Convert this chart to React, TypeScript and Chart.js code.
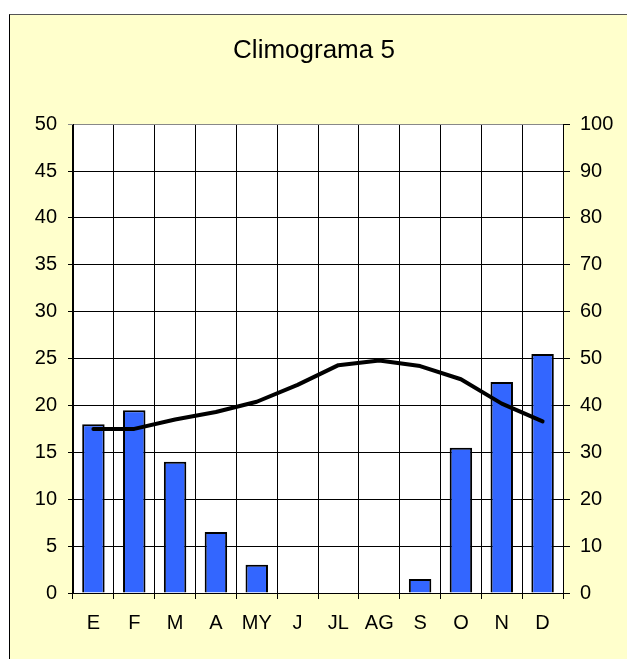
import React, { useEffect, useRef } from 'react';
import { Chart, registerables } from 'chart.js';

Chart.register(...registerables);

const months = ['E', 'F', 'M', 'A', 'MY', 'J', 'JL', 'AG', 'S', 'O', 'N', 'D'];
const precipitation = [36, 39, 28, 13, 6, 0, 0, 0, 3, 31, 45, 51];
const temperature = [17.5, 17.5, 18.5, 19.3, 20.4, 22.2, 24.3, 24.8, 24.2, 22.8, 20.2, 18.3];
const tempRange = [0, 50];
const precipRange = [0, 100];
const titleText = 'Climograma 5';

const FONT = '"Liberation Sans", Arial, Helvetica, sans-serif';

const plotBg = {
  id: 'plotBg',
  beforeDraw(chart: any) {
    const { ctx, chartArea } = chart;
    if (!chartArea) return;
    ctx.save();
    ctx.fillStyle = '#ffffff';
    ctx.fillRect(chartArea.left, chartArea.top, chartArea.right - chartArea.left, chartArea.bottom - chartArea.top);
    ctx.restore();
  },
};

export default function App() {
  const ref = useRef<HTMLCanvasElement | null>(null);

  useEffect(() => {
    document.documentElement.style.overflow = 'hidden';
    const canvas = ref.current;
    if (!canvas) return;
    const chart = new Chart(canvas, {
      type: 'bar',
      data: {
        labels: months,
        datasets: [
          {
            type: 'line',
            label: 'Temperatura',
            data: temperature,
            yAxisID: 'yT',
            borderColor: '#000000',
            borderWidth: 4,
            pointRadius: 0,
            tension: 0,
            borderJoinStyle: 'round',
            borderCapStyle: 'round',
            order: 0,
          } as any,
          {
            type: 'bar',
            label: 'Precipitación',
            data: precipitation,
            yAxisID: 'yP',
            backgroundColor: '#3366FF',
            borderColor: '#000000',
            borderWidth: 2,
            barPercentage: 0.55,
            categoryPercentage: 1,
            order: 1,
          } as any,
        ],
      },
      options: {
        responsive: false,
        animation: false,
        layout: { padding: { left: 0, right: 9, top: 0, bottom: 0 } },
        plugins: {
          legend: { display: false },
          tooltip: { enabled: false },
          title: {
            display: true,
            text: titleText,
            color: '#000000',
            font: { family: FONT, size: 26, weight: 'normal', lineHeight: 1.2 },
            padding: { top: 20, bottom: 58 },
          },
        },
        scales: {
          x: {
            grid: { offset: true, color: '#000000', lineWidth: 1, tickLength: 6 },
            border: { color: '#000000', width: 1 },
            ticks: {
              color: '#000000',
              font: { family: FONT, size: 20 },
              padding: 12,
              maxRotation: 0,
              autoSkip: false,
            },
            afterFit(s: any) {
              s.height = 66;
            },
          },
          yT: {
            position: 'left',
            min: tempRange[0],
            max: tempRange[1],
            ticks: {
              stepSize: 5,
              color: '#000000',
              font: { family: FONT, size: 20 },
              padding: 11,
            },
            grid: {
              color: (c: any) => (c.tick && c.tick.value === tempRange[1] ? '#888888' : '#000000'),
              lineWidth: 1,
              tickLength: 5,
            },
            border: { color: '#000000', width: 1 },
            afterFit(s: any) {
              s.width = 63;
            },
          },
          yP: {
            position: 'right',
            min: precipRange[0],
            max: precipRange[1],
            ticks: {
              stepSize: 10,
              color: '#000000',
              font: { family: FONT, size: 20 },
              padding: 10,
            },
            grid: { drawOnChartArea: false, color: '#000000', lineWidth: 1, tickLength: 7 },
            border: { color: '#000000', width: 1 },
            afterFit(s: any) {
              s.width = 55;
            },
          },
        },
      } as any,
      plugins: [plotBg],
    });
    return () => chart.destroy();
  }, []);

  return (
    <div
      style={{
        position: 'fixed',
        left: 9,
        top: 14,
        width: 660,
        height: 700,
        borderLeft: '1px solid #000',
        borderTop: '1px solid #555',
        background: '#FFFFCC',
      }}
    >
      <canvas
        ref={ref}
        width={617}
        height={644}
        style={{ position: 'absolute', left: 0, top: 0, width: 617, height: 644 }}
      />
    </div>
  );
}
